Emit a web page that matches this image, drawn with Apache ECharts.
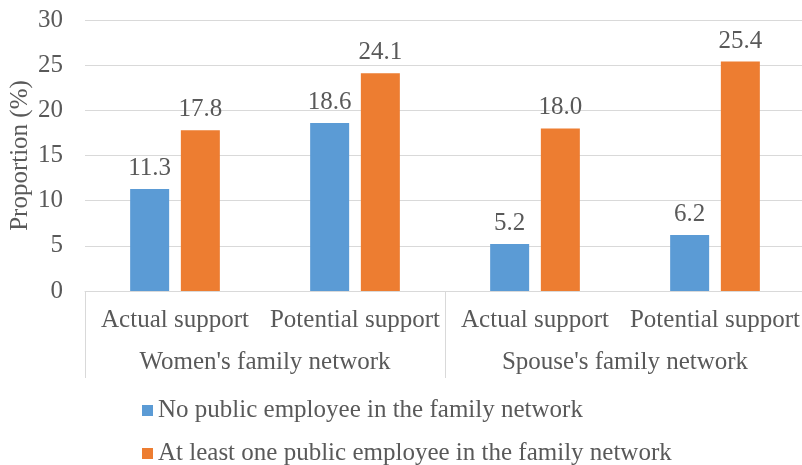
<!DOCTYPE html>
<html>
<head>
<meta charset="utf-8">
<script src="https://cdn.jsdelivr.net/npm/echarts@6/dist/echarts.min.js"></script>
<style>html,body{margin:0;padding:0;background:#fff}#c{width:802px;height:465px}</style>
</head>
<body>
<div id="c"></div>
<script>
const categories = ['Actual support', 'Potential support', 'Actual support', 'Potential support'];
const groups = ["Women's family network", "Spouse's family network"];
const seriesNames = ['No public employee in the family network', 'At least one public employee in the family network'];
const noPublic = [11.3, 18.6, 5.2, 6.2];
const atLeastOne = [17.8, 24.1, 18.0, 25.4];
const yTicks = [0, 5, 10, 15, 20, 25, 30];

const FONT = '"Liberation Serif", "Times New Roman", serif';
const TXT = '#595959';
const FS = 25;
const chart = echarts.init(document.getElementById('c'), null, {renderer: 'canvas'});
chart.setOption({
  animation: false,
  textStyle: {fontFamily: FONT},
  grid: {left: 85, right: -3, top: 20, bottom: 174, containLabel: false, outerBoundsMode: 'none'},
  legend: {
    orient: 'vertical', left: 142, top: 398, height: 70, padding: 0,
    itemWidth: 11, itemHeight: 11, itemGap: 18,
    icon: 'rect',
    textStyle: {fontFamily: FONT, fontSize: FS, color: TXT, lineHeight: 24},
    data: seriesNames
  },
  xAxis: [{
    type: 'category', data: categories, position: 'bottom',
    axisLine: {show: true, lineStyle: {color: '#D9D9D9', width: 1}},
    axisTick: {show: false},
    axisLabel: {fontFamily: FONT, fontSize: FS, color: TXT, margin: 17, interval: 0}
  }, {
    type: 'category', data: groups, position: 'bottom',
    axisLine: {show: false},
    axisTick: {show: true, length: 87, lineStyle: {color: '#D9D9D9', width: 1}},
    axisLabel: {fontFamily: FONT, fontSize: FS, color: TXT, margin: 59, interval: 0}
  }],
  yAxis: {
    type: 'value', min: yTicks[0], max: yTicks[yTicks.length - 1], interval: 5,
    name: 'Proportion (%)', nameLocation: 'middle', nameGap: 52, nameRotate: 90,
    nameMoveOverlap: false,
    nameTextStyle: {fontFamily: FONT, fontSize: FS, color: TXT},
    axisLine: {show: false}, axisTick: {show: false},
    axisLabel: {fontFamily: FONT, fontSize: FS, color: TXT, margin: 22},
    splitLine: {lineStyle: {color: '#D9D9D9', width: 1}}
  },
  series: [{
    name: seriesNames[0], type: 'bar', data: noPublic, xAxisIndex: 0,
    barWidth: 39, barGap: '30%',
    itemStyle: {color: '#5B9BD5'},
    label: {show: true, position: 'top', distance: 8, fontFamily: FONT, fontSize: FS, color: TXT,
      formatter: p => p.value.toFixed(1)}
  }, {
    name: seriesNames[1], type: 'bar', data: atLeastOne, xAxisIndex: 0,
    barWidth: 39, barGap: '30%',
    itemStyle: {color: '#ED7D31'},
    label: {show: true, position: 'top', distance: 8, fontFamily: FONT, fontSize: FS, color: TXT,
      formatter: p => p.value.toFixed(1)}
  }]
});
</script>
</body>
</html>
